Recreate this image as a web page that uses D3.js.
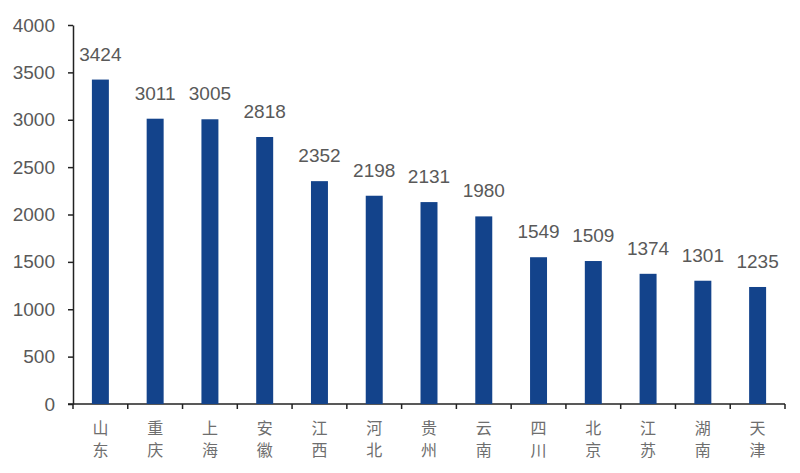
<!DOCTYPE html>
<html>
<head>
<meta charset="utf-8">
<script src="https://cdn.jsdelivr.net/npm/d3@7"></script>
<style>
  html, body { margin: 0; padding: 0; background: #fff; }
  text { font-family: "Liberation Sans", Arial, sans-serif; fill: #595959; }
  .cat { font-family: "Noto Sans CJK SC", sans-serif; font-size: 16px; fill: #6e6e6e; }
</style>
</head>
<body>
<svg id="chart" width="800" height="473"></svg>
<script>
var provinces = ["山东", "重庆", "上海", "安徽", "江西", "河北", "贵州", "云南", "四川", "北京", "江苏", "湖南", "天津"];
var values = [3424, 3011, 3005, 2818, 2352, 2198, 2131, 1980, 1549, 1509, 1374, 1301, 1235];
var yTicks = [0, 500, 1000, 1500, 2000, 2500, 3000, 3500, 4000];

var svg = d3.select("#chart");

var x = d3.scaleBand().domain(provinces).range([73, 785]).paddingInner(0.69).paddingOuter(0.345);
var y = d3.scaleLinear().domain([0, 4000]).range([404, 25]);

// y axis
var yAxis = svg.append("g")
  .attr("transform", "translate(73,0)")
  .call(d3.axisLeft(y).tickValues(yTicks).tickFormat(d3.format("d")).tickSize(5).tickPadding(13).tickSizeOuter(0));
yAxis.selectAll("text").style("font-size", "19px").style("fill", "#595959");

// x axis, ticks fall on the category edges
var xEdges = d3.scaleLinear().domain([0, provinces.length]).range([73, 785]);
var xAxis = svg.append("g").attr("transform", "translate(0,404)");
xAxis.append("line").attr("x1", 68).attr("x2", 785).attr("stroke", "#222").attr("stroke-width", 1.5);
xAxis.selectAll(".tick-mark")
  .data(d3.range(provinces.length + 1))
  .join("line")
  .attr("class", "tick-mark")
  .attr("x1", function(d) { return xEdges(d); })
  .attr("x2", function(d) { return xEdges(d); })
  .attr("y1", 0)
  .attr("y2", 5)
  .attr("stroke", "#222")
  .attr("stroke-width", 1.5);

yAxis.selectAll("line").attr("stroke", "#222").attr("stroke-width", 1.5);
yAxis.select(".domain").attr("stroke", "#222").attr("stroke-width", 1.5);

// bars
svg.append("g").selectAll("rect")
  .data(values)
  .join("rect")
  .attr("x", function(d, i) { return x(provinces[i]); })
  .attr("y", function(d) { return y(d); })
  .attr("width", x.bandwidth())
  .attr("height", function(d) { return y(0) - y(d); })
  .attr("fill", "#13438b");

// value labels
svg.append("g").selectAll("text")
  .data(values)
  .join("text")
  .attr("x", function(d, i) { return x(provinces[i]) + x.bandwidth() / 2; })
  .attr("y", function(d) { return y(d) - 19; })
  .attr("text-anchor", "middle")
  .style("font-size", "19px")
  .text(function(d) { return d; });

// category labels, stacked one character per line
var cats = svg.append("g").selectAll("text")
  .data(provinces)
  .join("text")
  .attr("class", "cat")
  .attr("text-anchor", "middle");

cats.selectAll("tspan")
  .data(function(d) { return d.split(""); })
  .join("tspan")
  .attr("x", function() { return x(d3.select(this.parentNode).datum()) + x.bandwidth() / 2; })
  .attr("y", function(d, i) { return 434 + i * 22; })
  .text(function(d) { return d; });
</script>
</body>
</html>
